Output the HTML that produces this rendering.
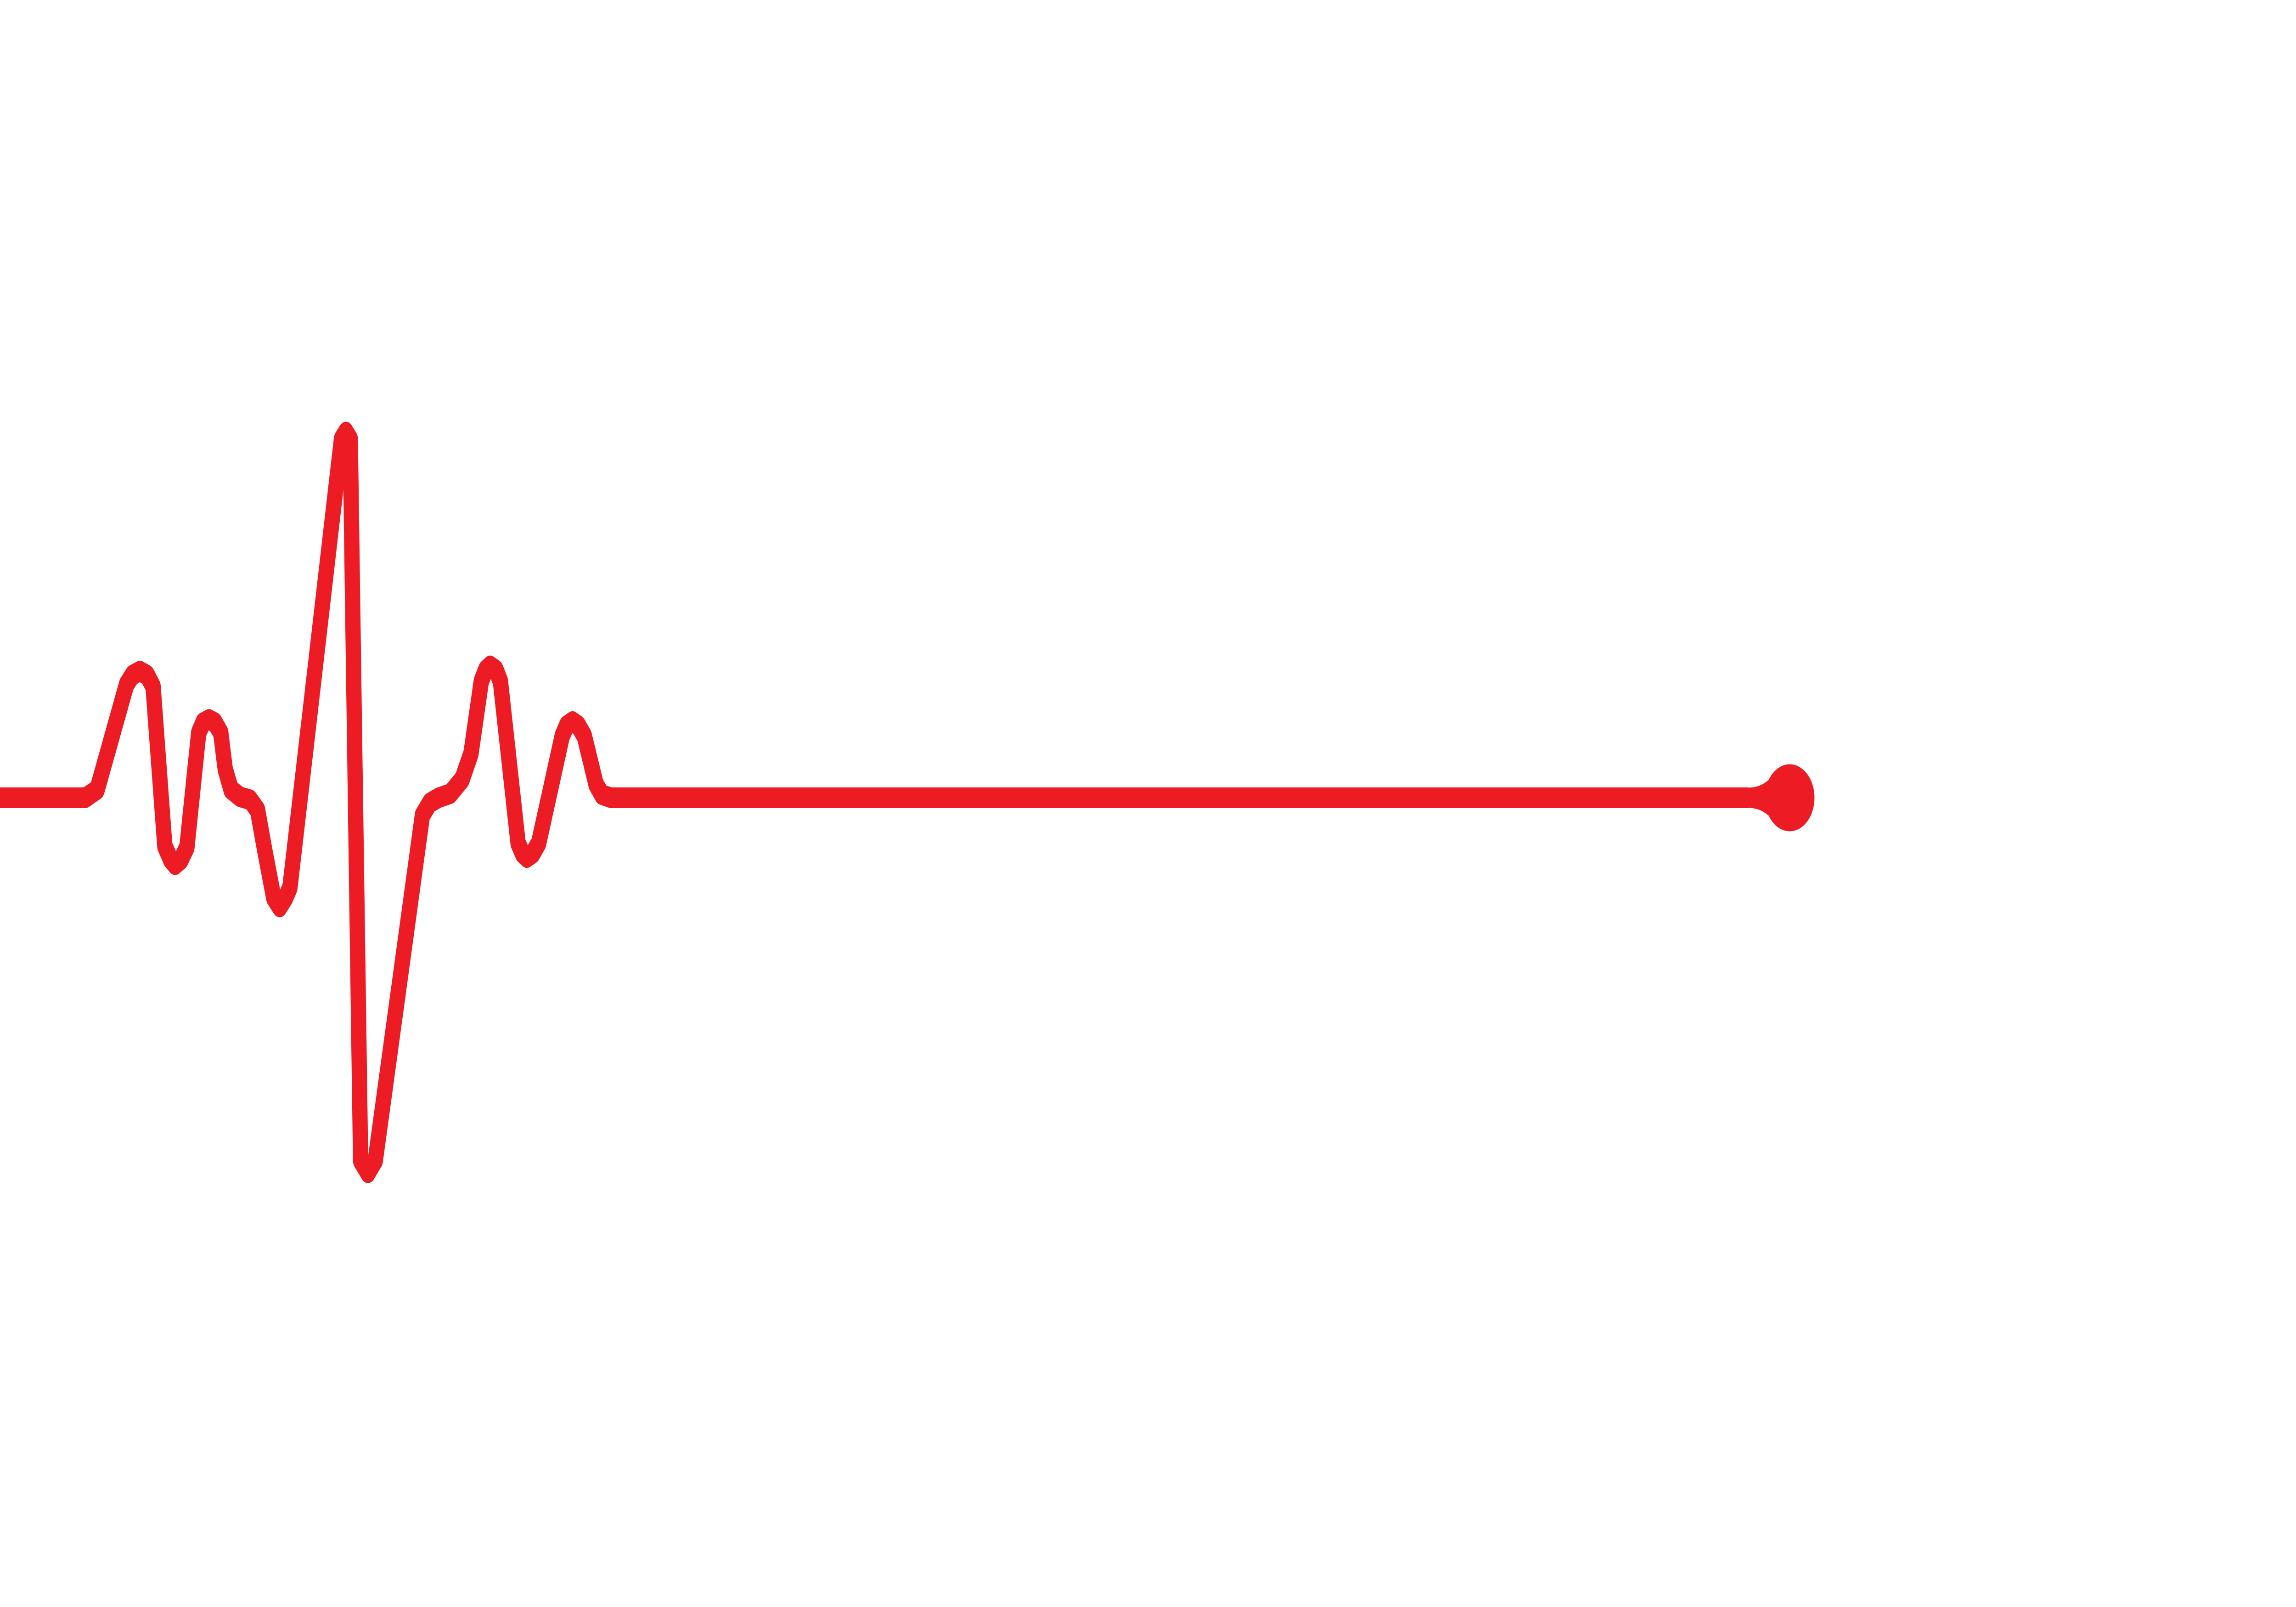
<!DOCTYPE html>
<html>
<head>
<meta charset="utf-8">
<style>
  html, body { margin: 0; padding: 0; background: #ffffff; width: 100%; height: 100%; overflow: hidden; }
  svg { display: block; position: fixed; left: 0; top: 0; width: 100vw; height: 100vh; }
</style>
</head>
<body>
<svg id="chart" viewBox="0 0 6757 3500" preserveAspectRatio="none" xmlns="http://www.w3.org/2000/svg">
  <rect x="0" y="0" width="6757" height="3500" fill="#ffffff"/>
  <g id="trace"></g>
</svg>
<script>
// ECG trace vertices, measured in a 1560x1560 normalized reference grid
const traceX = [0, 58, 66, 86, 90, 95, 100, 104, 112, 116, 119, 123, 127, 135, 138, 142, 146, 150, 153, 157, 163, 170, 175, 180, 186, 190, 194, 197, 232, 235, 238, 245, 250, 255, 287, 292, 298, 306, 314, 320, 327, 330, 333, 337, 340, 352, 355, 358, 362, 366, 382, 385, 389, 393, 397, 405, 409, 415, 1188];
const traceY = [778, 778, 770, 668, 659, 655, 659, 670, 825, 838, 843, 838, 826, 715, 705, 702, 705, 715, 750, 770, 777, 780, 790, 830, 875, 884, 875, 865, 430, 423, 430, 1130, 1142, 1130, 795, 783, 778, 774, 760, 735, 665, 654, 650, 654, 665, 822, 832, 836, 832, 822, 718, 708, 704, 708, 718, 765, 775, 778, 778];

const W = 6757, H = 3500, GRID = 1560, YOFF = -8;
function sx(v) { return v / GRID * W; }
function sy(v) { return v / GRID * H + YOFF; }

const svgNS = 'http://www.w3.org/2000/svg';
const g = document.getElementById('trace');
let d = '';
for (let i = 0; i < traceX.length; i++) {
  d += (i === 0 ? 'M' : 'L') + sx(traceX[i]).toFixed(1) + ' ' + sy(traceY[i]).toFixed(1) + ' ';
}
const path = document.createElementNS(svgNS, 'path');
path.setAttribute('d', d);
path.setAttribute('fill', 'none');
path.setAttribute('stroke', '#ed1c24');
path.setAttribute('stroke-width', '45');
path.setAttribute('stroke-linejoin', 'round');
path.setAttribute('stroke-linecap', 'butt');


g.appendChild(path);

const lastX = sx(traceX[traceX.length - 1]);
const baseY = sy(traceY[traceY.length - 1]);
const dotX = sx(1216);
const tail = document.createElementNS(svgNS, 'path');
tail.setAttribute('d',
  'M' + (lastX - 2) + ' ' + (baseY - 22) +
  ' C ' + (lastX + 45) + ' ' + (baseY - 22) + ' ' + (lastX + 65) + ' ' + (baseY - 42) + ' ' + (dotX - 30) + ' ' + (baseY - 64) +
  ' L ' + (dotX - 30) + ' ' + (baseY + 64) +
  ' C ' + (lastX + 65) + ' ' + (baseY + 42) + ' ' + (lastX + 45) + ' ' + (baseY + 22) + ' ' + (lastX - 2) + ' ' + (baseY + 22) + ' Z');
tail.setAttribute('fill', '#ed1c24');


g.appendChild(tail);

const dot = document.createElementNS(svgNS, 'circle');
dot.setAttribute('cx', dotX);
dot.setAttribute('cy', baseY);
dot.setAttribute('r', '73');
dot.setAttribute('fill', '#ed1c24');


g.appendChild(dot);
</script>
</body>
</html>
